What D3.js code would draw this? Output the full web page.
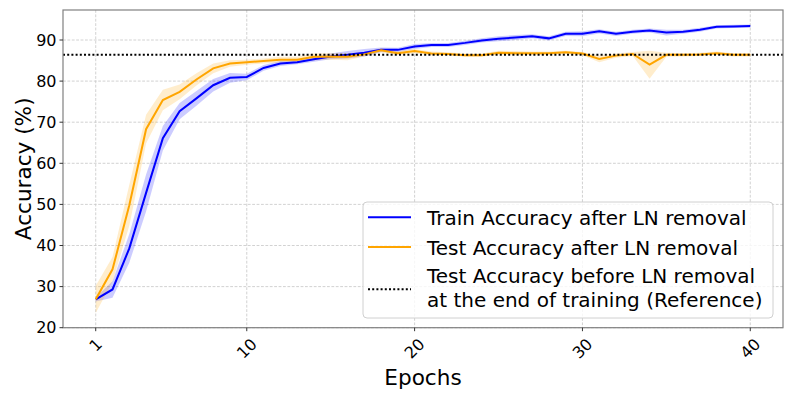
<!DOCTYPE html>
<html lang="en">
<head>
<meta charset="utf-8">
<title>Accuracy after LN removal</title>
<style>
  body { margin: 0; background: #fff; }
  svg { display: block; font-family: "DejaVu Sans", sans-serif; }
</style>
</head>
<body>
<svg width="793" height="397"></svg>
<script src="https://d3js.org/d3.v7.min.js"></script>
<script>

var epochs = d3.range(1, 41);

var trainAcc = [26.9, 29.3, 39.3, 52.8, 66.1, 72.7, 75.8, 79.0, 80.8, 81.0,
                83.2, 84.3, 84.6, 85.3, 86.0, 86.4, 86.9, 87.6, 87.6, 88.4,
                88.8, 88.8, 89.3, 89.9, 90.3, 90.6, 90.9, 90.4, 91.5, 91.5,
                92.1, 91.5, 92.0, 92.3, 91.8, 92.0, 92.5, 93.2, 93.3, 93.4];
var trainStd = [0.5, 2.0, 3.5, 4.5, 3.0, 2.0, 1.8, 1.5, 1.2, 0.8,
                0.7, 0.6, 0.5, 0.6, 0.7, 0.9, 0.9, 0.6, 0.5, 0.6,
                0.5, 0.5, 0.5, 0.5, 0.6, 0.6, 0.5, 0.5, 0.5, 0.6,
                0.5, 0.5, 0.5, 0.5, 0.7, 0.5, 0.5, 0.4, 0.4, 0.4];

var testAcc = [26.9, 34.2, 49.8, 68.3, 75.4, 77.4, 80.4, 83.1, 84.3, 84.6,
               84.9, 85.2, 85.2, 85.9, 86.0, 85.9, 86.5, 87.5, 86.8, 87.3,
               86.7, 86.6, 86.3, 86.3, 86.9, 86.8, 86.8, 86.8, 87.0, 86.7,
               85.4, 86.2, 86.6, 84.0, 86.4, 86.4, 86.5, 86.8, 86.4, 86.4];
var testStd = [3.3, 3.0, 5.0, 3.5, 2.5, 1.8, 1.5, 1.2, 0.8, 0.6,
               0.6, 0.7, 0.7, 0.8, 0.8, 0.8, 0.5, 0.5, 0.5, 0.5,
               0.5, 0.4, 0.4, 0.4, 0.5, 0.5, 0.4, 0.4, 0.4, 0.4,
               0.8, 0.5, 0.5, 3.4, 0.5, 0.4, 0.4, 0.4, 0.4, 0.4];

var refAcc = 86.4;

var xTicks = [1, 10, 20, 30, 40];
var yTicks = [20, 30, 40, 50, 60, 70, 80, 90];

var legendItems = [
  { lines: ["Train Accuracy after LN removal"], color: "#0000ff", dash: null },
  { lines: ["Test Accuracy after LN removal"], color: "#ffa500", dash: null },
  { lines: ["Test Accuracy before LN removal", "at the end of training (Reference)"], color: "#000", dash: "2,2.2" }
];

var svg = d3.select("svg");
var pLeft = 63, pRight = 783, pTop = 10, pBottom = 327.7;

var x = d3.scaleLinear().domain([-0.95, 41.95]).range([pLeft, pRight]);
var y = d3.scaleLinear().domain([20, 97.3]).range([pBottom, pTop]);

// grid
var grid = svg.append("g").attr("stroke", "#b0b0b0").attr("stroke-width", 0.8)
  .attr("stroke-dasharray", "2.8,1.6").attr("opacity", 0.7);
grid.selectAll(".gx").data(xTicks).enter().append("line")
  .attr("x1", d => x(d)).attr("x2", d => x(d)).attr("y1", pTop).attr("y2", pBottom);
grid.selectAll(".gy").data(yTicks).enter().append("line")
  .attr("x1", pLeft).attr("x2", pRight).attr("y1", d => y(d)).attr("y2", d => y(d));

function band(mean, sd) {
  return d3.area()
    .x((d, i) => x(epochs[i]))
    .y0((d, i) => y(mean[i] - sd[i]))
    .y1((d, i) => y(mean[i] + sd[i]))(mean);
}
var line = d3.line().x((d, i) => x(epochs[i])).y(d => y(d));

svg.append("path").attr("d", band(trainAcc, trainStd)).attr("fill", "#0000ff").attr("fill-opacity", 0.2);
svg.append("path").attr("d", band(testAcc, testStd)).attr("fill", "#ffa500").attr("fill-opacity", 0.2);

svg.append("path").attr("d", line(trainAcc)).attr("fill", "none").attr("stroke", "#0000ff").attr("stroke-width", 2);
svg.append("path").attr("d", line(testAcc)).attr("fill", "none").attr("stroke", "#ffa500").attr("stroke-width", 2);

svg.append("line").attr("x1", pLeft).attr("x2", pRight).attr("y1", y(refAcc)).attr("y2", y(refAcc))
  .attr("stroke", "#000").attr("stroke-width", 2).attr("stroke-dasharray", "2,2.2");

// frame
svg.append("rect").attr("x", pLeft).attr("y", pTop).attr("width", pRight - pLeft).attr("height", pBottom - pTop)
  .attr("fill", "none").attr("stroke", "#808080").attr("stroke-width", 1.2);

// y ticks
var yt = svg.append("g");
yTicks.forEach(function(t) {
  yt.append("line").attr("x1", pLeft - 3.5).attr("x2", pLeft).attr("y1", y(t)).attr("y2", y(t))
    .attr("stroke", "#333").attr("stroke-width", 1);
  yt.append("text").attr("x", pLeft - 6.5).attr("y", y(t)).attr("dy", "0.36em")
    .attr("text-anchor", "end").attr("font-size", 16).attr("fill", "#000").text(t);
});

// x ticks
var xt = svg.append("g");
xTicks.forEach(function(t) {
  xt.append("line").attr("x1", x(t)).attr("x2", x(t)).attr("y1", pBottom).attr("y2", pBottom + 3.5)
    .attr("stroke", "#333").attr("stroke-width", 1);
  var txt = xt.append("text").attr("font-size", 16).attr("text-anchor", "middle")
    .attr("dominant-baseline", "central").attr("fill", "#000").text(t);
  var w = txt.node().getComputedTextLength();
  var h = 16 * 1.17;
  var cy = pBottom + 7 + (w + h) * Math.SQRT1_2 / 2;
  txt.attr("transform", "translate(" + x(t) + "," + cy + ") rotate(-45)");
});

// axis labels
svg.append("text").attr("x", (pLeft + pRight) / 2).attr("y", 385).attr("text-anchor", "middle")
  .attr("font-size", 21.6).text("Epochs");
svg.append("text").attr("transform", "translate(31," + (pTop + pBottom) / 2 + ") rotate(-90)")
  .attr("text-anchor", "middle").attr("font-size", 21.6).text("Accuracy (%)");

// legend
var lg = svg.append("g");
lg.append("rect").attr("x", 363).attr("y", 202).attr("width", 410).attr("height", 116).attr("rx", 4)
  .attr("fill", "#fff").attr("fill-opacity", 0.8).attr("stroke", "#d0d0d0").attr("stroke-width", 1);
var handleY = [217.3, 247, 289.3];
var textY = [[225], [254.5], [283.3, 306.5]];
legendItems.forEach(function(it, i) {
  lg.append("line").attr("x1", 368).attr("x2", 411).attr("y1", handleY[i]).attr("y2", handleY[i])
    .attr("stroke", it.color).attr("stroke-width", 2).attr("stroke-dasharray", it.dash);
  it.lines.forEach(function(s, j) {
    lg.append("text").attr("x", 427).attr("y", textY[i][j]).attr("font-size", 20).text(s);
  });
});

</script>
</body>
</html>
